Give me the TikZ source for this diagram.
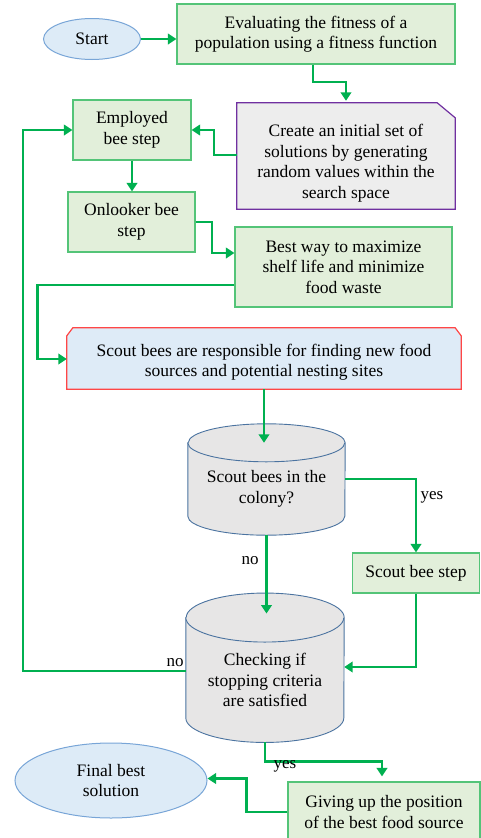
\documentclass[tikz,border=0pt]{standalone}
\usepackage{fontspec}
\setmainfont{Liberation Serif}
\usetikzlibrary{arrows.meta,shapes.geometric,backgrounds}

\definecolor{linegreen}{RGB}{0,176,80}
\definecolor{boxgreen}{RGB}{226,239,218}
\definecolor{boxedge}{RGB}{84,196,120}
\definecolor{ovalfill}{RGB}{221,235,247}
\definecolor{ovaledge}{RGB}{120,165,215}
\definecolor{drumfill}{RGB}{231,230,230}
\definecolor{drumedge}{RGB}{75,115,160}
\definecolor{notefill}{RGB}{237,237,237}
\definecolor{noteedge}{RGB}{112,48,160}
\definecolor{scoutedge}{RGB}{255,70,70}
\definecolor{scoutfill}{RGB}{222,235,247}

% cylinder drawn around a node whose top edge is the centre of the lid
\newcommand{\drawdrum}[3]{%
  \filldraw[drum] (#1.north west) -- ([yshift=#3]#1.south west)
    arc[start angle=180,end angle=360,x radius=#2,y radius=#3]
    -- (#1.north east)
    arc[start angle=0,end angle=180,x radius=#2,y radius=#3] -- cycle;
  \draw[drum] (#1.north west)
    arc[start angle=180,end angle=360,x radius=#2,y radius=#3];
}

\begin{document}
\begin{tikzpicture}[x=1pt,y=-1pt,
  every node/.style={font=\fontsize{17.5}{20.5}\selectfont, align=center, inner sep=0pt},
  stepbox/.style={rectangle, draw=boxedge, fill=boxgreen, line width=1.2pt},
  oval/.style={ellipse, draw=ovaledge, fill=ovalfill, line width=1pt},
  plain/.style={rectangle},
  drum/.style={draw=drumedge, fill=drumfill, line width=0.9pt},
  flow/.style={draw=linegreen, line width=2.2pt, -{Triangle[length=8.5pt,width=10.5pt]}},
  lbl/.style={font=\fontsize{17}{18}\selectfont}]

\useasboundingbox (0,0) rectangle (481,838);

% process nodes
\node[oval, minimum width=97pt, minimum height=41pt] (start) at (92,39) {Start};
\node[stepbox, minimum width=278pt, minimum height=60pt] (eval) at (316,34)
  {Evaluating the fitness of a\\population using a fitness function};
\node[plain, minimum width=218pt, minimum height=106pt] (create) at (346,163)
  {Create an initial set of\\solutions by generating\\random values within the\\search space};
\node[stepbox, minimum width=118pt, minimum height=60pt] (employed) at (132,130)
  {Employed\\bee step};
\node[stepbox, minimum width=127pt, minimum height=60pt] (onlooker) at (131.5,222)
  {Onlooker bee\\step};
\node[stepbox, minimum width=217pt, minimum height=80pt] (best) at (343.5,267)
  {Best way to maximize\\shelf life and minimize\\food waste};
\node[plain, minimum width=394pt, minimum height=61pt] (scout) at (264,362)
  {Scout bees are responsible for finding new food\\sources and potential nesting sites};
\node[plain, minimum width=157pt, minimum height=92pt] (cyl1) at (266.5,489)
  {Scout bees in the\\colony?};
\node[stepbox, minimum width=127pt, minimum height=40pt] (scoutstep) at (416,573)
  {Scout bee step};
\node[plain, minimum width=158pt, minimum height=124.5pt] (cyl2) at (265,680)
  {Checking if\\stopping criteria\\are satisfied};
\node[stepbox, minimum width=192pt, minimum height=60pt] (giving) at (384,812)
  {Giving up the position\\of the best food source};
\node[oval, minimum width=192pt, minimum height=75pt] (final) at (111,780.5)
  {Final best\\solution};

% outlines of the shaped boxes (their text sits a little below the middle)
\begin{scope}[on background layer]
  \filldraw[draw=noteedge, fill=notefill, line width=1.2pt]
    ([yshift=7pt]create.south west) -- ([yshift=7pt]create.north west)
    -- ([xshift=-18pt,yshift=7pt]create.north east)
    -- ([yshift=-8pt]create.north east) -- ([yshift=7pt]create.south east) -- cycle;
  \filldraw[draw=scoutedge, fill=scoutfill, line width=1.2pt]
    ([yshift=3.5pt]scout.south west) -- ([yshift=-4.5pt]scout.north west)
    -- ([xshift=6pt,yshift=3.5pt]scout.north west)
    -- ([xshift=-6pt,yshift=3.5pt]scout.north east) -- ([yshift=-4.5pt]scout.north east)
    -- ([yshift=3.5pt]scout.south east) -- cycle;
  \drawdrum{cyl1}{78.5pt}{19pt}
  \drawdrum{cyl2}{79pt}{24.5pt}
\end{scope}

% connectors
\draw[flow] (start.east) -- (start.east -| eval.west);
\draw[flow, shorten >=2pt] ([xshift=-3pt]eval.south) -- ++(0,17) -| ([yshift=7pt]create.north);
\draw[flow] ([yshift=8pt]create.west) -- ++(-23,0) |- (employed.east);
\draw[flow] (employed.south) -- (employed.south |- onlooker.north);
\draw[flow] (onlooker.east) -- ++(16,0) |- ([yshift=14pt]best.west);
\draw[flow] ([yshift=-18pt]best.west) -- ++(-197,0) |- ([yshift=3pt]scout.west);
\draw[flow] ([yshift=3.5pt]scout.south) -- (scout.south |- cyl1.north);
\draw[flow] ([yshift=10pt]cyl1.east) -| (scoutstep.north);
\draw[flow, shorten >=4pt] (cyl1.south) -- (cyl1.south |- cyl2.north);
\draw[flow] (scoutstep.south) |- ([yshift=13pt]cyl2.east);
\draw[flow] ([yshift=9pt]cyl2.west) -- ++(-163,0) |- (employed.west);
\draw[flow, shorten >=5pt] (cyl2.south) -- ++(0,19) -| ([xshift=-2pt]giving.north);
\draw[flow] (giving.west) -- ++(-41,0) |- ([yshift=2pt]final.east);

% branch labels
\node[lbl] (yesA) at (432,497) {yes};
\node[lbl] (noA) at (250,561) {no};
\node[lbl] (noB) at (175,663) {no};
\node[lbl] (yesB) at (285,766) {yes};
\end{tikzpicture}
\end{document}
